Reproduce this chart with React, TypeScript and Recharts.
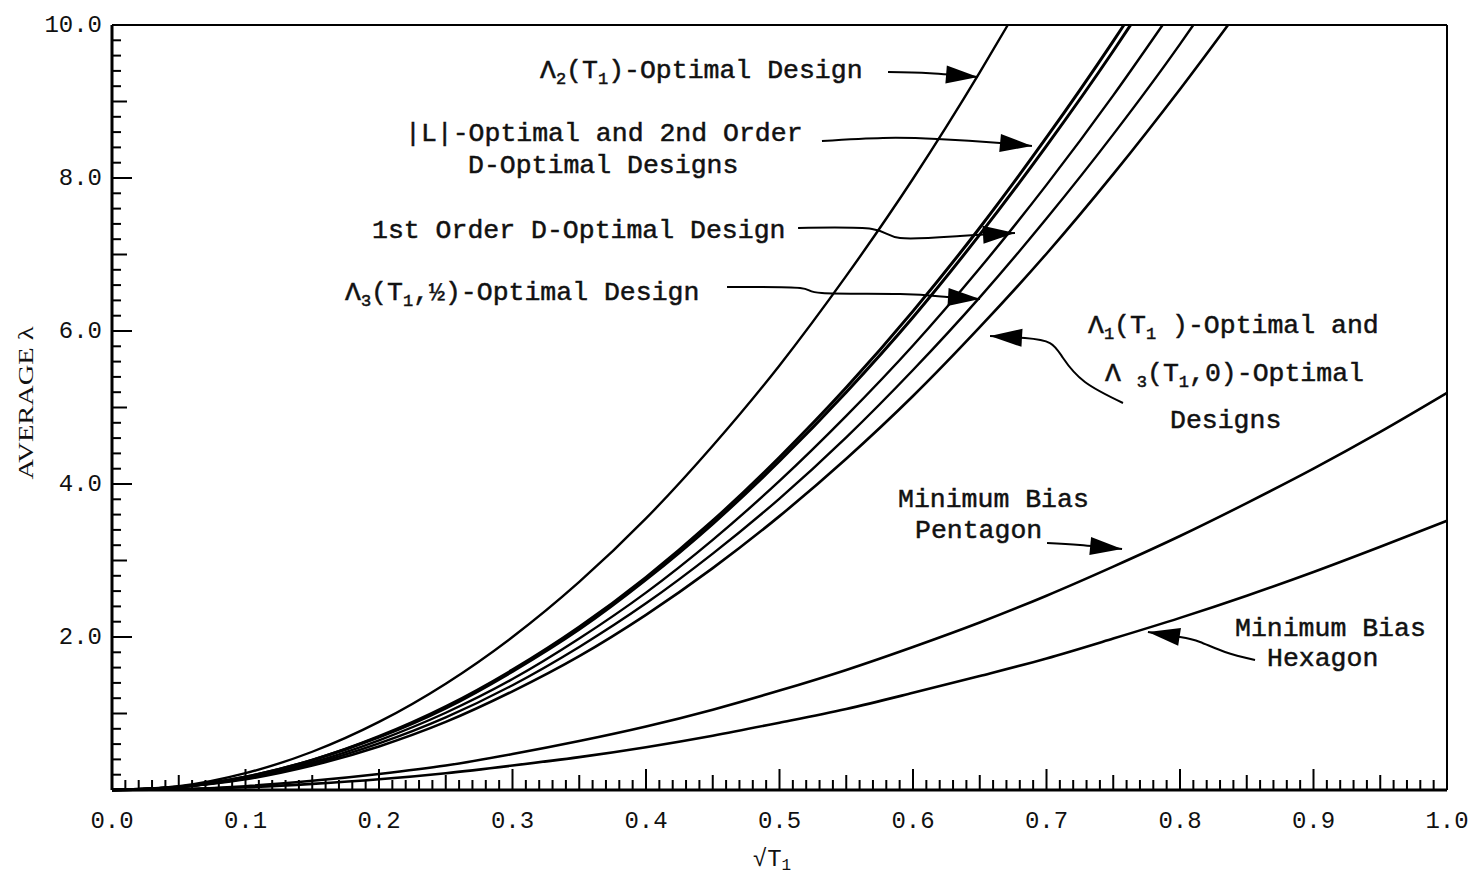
import React from 'react';
import { LineChart, Line, XAxis, YAxis, ReferenceLine } from 'recharts';

document.body.style.margin = '0';

const W = 1480;
const H = 882;
const MONO = '"Liberation Mono", "DejaVu Sans Mono", monospace';
const SERIF = '"Liberation Serif", serif';

// x = sqrt(T1), y = average lambda
const LAMBDA2_OPT = [[0, 0], [0.05, 0.05], [0.1, 0.22], [0.15, 0.5], [0.2, 0.89], [0.25, 1.39], [0.3, 2.0], [0.35, 2.72], [0.4, 3.55], [0.45, 4.5], [0.5, 5.55], [0.55, 6.72], [0.6, 7.99], [0.65, 9.38], [0.671, 10]];
const L_OPT = [[0, 0], [0.05, 0.04], [0.1, 0.17], [0.15, 0.39], [0.2, 0.69], [0.25, 1.07], [0.3, 1.55], [0.35, 2.1], [0.4, 2.75], [0.45, 3.48], [0.5, 4.3], [0.55, 5.2], [0.6, 6.18], [0.65, 7.26], [0.7, 8.42], [0.75, 9.66], [0.763, 10]];
const D2_OPT = [[0, 0], [0.05, 0.04], [0.1, 0.17], [0.15, 0.39], [0.2, 0.7], [0.25, 1.09], [0.3, 1.57], [0.35, 2.13], [0.4, 2.78], [0.45, 3.52], [0.5, 4.35], [0.55, 5.26], [0.6, 6.26], [0.65, 7.35], [0.7, 8.53], [0.75, 9.79], [0.758, 10]];
const D1_OPT = [[0, 0], [0.05, 0.04], [0.1, 0.16], [0.15, 0.36], [0.2, 0.65], [0.25, 1.01], [0.3, 1.45], [0.35, 1.98], [0.4, 2.58], [0.45, 3.27], [0.5, 4.04], [0.55, 4.89], [0.6, 5.81], [0.65, 6.82], [0.7, 7.91], [0.75, 9.08], [0.787, 10]];
const LAMBDA3_HALF = [[0, 0], [0.05, 0.04], [0.1, 0.15], [0.15, 0.34], [0.2, 0.61], [0.25, 0.95], [0.3, 1.37], [0.35, 1.87], [0.4, 2.44], [0.45, 3.09], [0.5, 3.81], [0.55, 4.61], [0.6, 5.49], [0.65, 6.44], [0.7, 7.47], [0.75, 8.57], [0.8, 9.75], [0.81, 10]];
const LAMBDA1_OPT = [[0, 0], [0.05, 0.04], [0.1, 0.14], [0.15, 0.32], [0.2, 0.57], [0.25, 0.89], [0.3, 1.29], [0.35, 1.75], [0.4, 2.29], [0.45, 2.9], [0.5, 3.58], [0.55, 4.33], [0.6, 5.15], [0.65, 6.05], [0.7, 7.01], [0.75, 8.05], [0.8, 9.16], [0.836, 10]];
const PENTAGON = [[0, 0], [0.05, 0.01], [0.1, 0.05], [0.15, 0.12], [0.2, 0.21], [0.25, 0.32], [0.3, 0.47], [0.35, 0.64], [0.4, 0.83], [0.45, 1.05], [0.5, 1.3], [0.55, 1.57], [0.6, 1.87], [0.65, 2.19], [0.7, 2.54], [0.75, 2.92], [0.8, 3.32], [0.85, 3.75], [0.9, 4.2], [0.95, 4.68], [1.0, 5.19]];
const HEXAGON = [[0, 0], [0.05, 0.01], [0.1, 0.035], [0.15, 0.08], [0.2, 0.14], [0.25, 0.22], [0.3, 0.32], [0.35, 0.43], [0.4, 0.56], [0.45, 0.71], [0.5, 0.88], [0.55, 1.06], [0.6, 1.27], [0.65, 1.49], [0.7, 1.72], [0.75, 1.98], [0.8, 2.25], [0.85, 2.54], [0.9, 2.85], [0.95, 3.18], [1.0, 3.52]];

// annotation arrows, tail -> tip, in data units
const ARROW_L2 = [[0.5813, 9.385], [0.6127, 9.37], [0.6487, 9.32]];
const ARROW_L = [[0.5318, 8.484], [0.5775, 8.523], [0.618, 8.51], [0.6652, 8.458], [0.6891, 8.418]];
const ARROW_D1 = [[0.5139, 7.346], [0.5693, 7.333], [0.5903, 7.216], [0.6352, 7.242], [0.6764, 7.281]];
const ARROW_L3 = [[0.4607, 6.575], [0.5154, 6.562], [0.5318, 6.497], [0.5903, 6.484], [0.6255, 6.444], [0.6502, 6.418]];
const ARROW_L1 = [[0.7573, 5.059], [0.7288, 5.333], [0.7124, 5.647], [0.7026, 5.843], [0.6839, 5.908], [0.6577, 5.935]];
const ARROW_PENT = [[0.7004, 3.229], [0.7251, 3.203], [0.7566, 3.15]];
const ARROW_HEX = [[0.8562, 1.699], [0.8337, 1.804], [0.815, 1.935], [0.8, 2.0], [0.776, 2.065]];

const X_LABELS = [0, 0.1, 0.2, 0.3, 0.4, 0.5, 0.6, 0.7, 0.8, 0.9, 1.0];
const Y_LABELS = [2, 4, 6, 8, 10];

const X_TICKS: number[] = [];
for (let i = 0; i <= 100; i++) X_TICKS.push(i / 100);
const Y_TICKS: number[] = [];
for (let i = 0; i <= 50; i++) Y_TICKS.push(i / 5);

const pts = (a: number[][]) => a.map(([x, y]) => ({ x, y }));

const SERIES = [
  { key: 'l2', data: LAMBDA2_OPT, w: 2.4 },
  { key: 'l', data: L_OPT, w: 3 },
  { key: 'd2', data: D2_OPT, w: 3 },
  { key: 'd1', data: D1_OPT, w: 2.4 },
  { key: 'l3', data: LAMBDA3_HALF, w: 2.4 },
  { key: 'l1', data: LAMBDA1_OPT, w: 2.6 },
  { key: 'pent', data: PENTAGON, w: 2.6 },
  { key: 'hex', data: HEXAGON, w: 2.6 },
];

const ARROWS = [
  { key: 'a1', data: ARROW_L2 },
  { key: 'a2', data: ARROW_L },
  { key: 'a3', data: ARROW_D1 },
  { key: 'a4', data: ARROW_L3 },
  { key: 'a5', data: ARROW_L1 },
  { key: 'a6', data: ARROW_PENT },
  { key: 'a7', data: ARROW_HEX },
];

function arrowDot(n: number) {
  let prev = { x: 0, y: 0 };
  return (p: any) => {
    const { cx, cy, index } = p;
    if (index < n - 1) {
      prev = { x: cx, y: cy };
      return <g key={index} />;
    }
    const a = Math.atan2(cy - prev.y, cx - prev.x);
    const len = 32;
    const hw = 9;
    const bx = cx - len * Math.cos(a);
    const by = cy - len * Math.sin(a);
    const s = Math.sin(a);
    const c = Math.cos(a);
    const poly = `${cx},${cy} ${bx - hw * s},${by + hw * c} ${bx + hw * s},${by - hw * c}`;
    return <polygon key={index} points={poly} fill="#000" />;
  };
}

function XTick(props: any) {
  const { x, y, payload } = props;
  const i = Math.round(payload.value * 100);
  const len = i % 10 === 0 ? 21 : i % 5 === 0 ? 15 : 10;
  const major = i % 10 === 0;
  return (
    <g>
      <line x1={x} x2={x} y1={y} y2={y - len} stroke="#000" strokeWidth={2} />
      {major && X_LABELS.some((v) => Math.round(v * 100) === i) && (
        <text x={x} y={y + 38} textAnchor="middle" fontFamily={MONO} fontSize={24} fill="#111">
          {(i / 100).toFixed(1)}
        </text>
      )}
    </g>
  );
}

function YTick(props: any) {
  const { x, y, payload } = props;
  const i = Math.round(payload.value * 5);
  const len = i % 10 === 0 ? 20 : i % 5 === 0 ? 15 : 9;
  const show = i > 0 && Y_LABELS.includes(i / 5);
  return (
    <g>
      <line x1={x} x2={x + len} y1={y} y2={y} stroke="#000" strokeWidth={2} />
      {show && (
        <text x={x - 10} y={y + 7} textAnchor="end" fontFamily={MONO} fontSize={24} fill="#111">
          {(i / 5).toFixed(1)}
        </text>
      )}
    </g>
  );
}

const T = { fontFamily: MONO, fontSize: 26.5, fill: '#111', stroke: '#111', strokeWidth: 0.5 };
const SUB = 17;

export default function App() {
  return (
    <div style={{ position: 'relative', width: W, height: H, background: '#fff' }}>
      <LineChart width={W} height={H} margin={{ top: 25, right: 33, left: 0, bottom: 0 }}>
        <XAxis
          type="number"
          dataKey="x"
          domain={[0, 1]}
          ticks={X_TICKS}
          interval={0}
          tick={<XTick />}
          tickLine={false}
          tickSize={0}
          tickMargin={0}
          height={92}
          axisLine={{ stroke: '#000', strokeWidth: 3 }}
          allowDuplicatedCategory={false}
        />
        <YAxis
          type="number"
          dataKey="y"
          domain={[0, 10]}
          ticks={Y_TICKS}
          interval={0}
          tick={<YTick />}
          tickLine={false}
          tickSize={0}
          tickMargin={0}
          width={112}
          axisLine={{ stroke: '#000', strokeWidth: 3 }}
        />
        <ReferenceLine y={10} stroke="#000" strokeWidth={2} />
        <ReferenceLine x={1} stroke="#000" strokeWidth={2} />
        {SERIES.map((s) => (
          <Line
            key={s.key}
            data={pts(s.data)}
            dataKey="y"
            type="monotone"
            stroke="#000"
            strokeWidth={s.w}
            dot={false}
            isAnimationActive={false}
          />
        ))}
        {ARROWS.map((a) => (
          <Line
            key={a.key}
            data={pts(a.data)}
            dataKey="y"
            type="natural"
            stroke="#000"
            strokeWidth={2}
            dot={arrowDot(a.data.length)}
            activeDot={false}
            isAnimationActive={false}
          />
        ))}
      </LineChart>
      <svg width={W} height={H} style={{ position: 'absolute', left: 0, top: 0, pointerEvents: 'none' }}>
        <text x={540} y={78} {...T}>
          Λ<tspan fontSize={SUB} dy={6}>2</tspan>
          <tspan dy={-6}>(T</tspan>
          <tspan fontSize={SUB} dy={6}>1</tspan>
          <tspan dy={-6}>)-Optimal Design</tspan>
        </text>
        <text x={405} y={141} {...T}>|L|-Optimal and 2nd Order</text>
        <text x={468} y={173} {...T}>D-Optimal Designs</text>
        <text x={372} y={238} {...T}>1st Order D-Optimal Design</text>
        <text x={345} y={300} {...T}>
          Λ<tspan fontSize={SUB} dy={6}>3</tspan>
          <tspan dy={-6}>(T</tspan>
          <tspan fontSize={SUB} dy={6}>1</tspan>
          <tspan dy={-6}>,½)-Optimal Design</tspan>
        </text>
        <text x={1088} y={333} {...T}>
          Λ<tspan fontSize={SUB} dy={6}>1</tspan>
          <tspan dy={-6}>(T</tspan>
          <tspan fontSize={SUB} dy={6}>1</tspan>
          <tspan dy={-6}> )-Optimal and</tspan>
        </text>
        <text x={1105} y={381} {...T}>
          Λ <tspan fontSize={SUB} dy={6}>3</tspan>
          <tspan dy={-6}>(T</tspan>
          <tspan fontSize={SUB} dy={6}>1</tspan>
          <tspan dy={-6}>,0)-Optimal</tspan>
        </text>
        <text x={1170} y={428} {...T}>Designs</text>
        <text x={898} y={507} {...T}>Minimum Bias</text>
        <text x={915} y={538} {...T}>Pentagon</text>
        <text x={1235} y={636} {...T}>Minimum Bias</text>
        <text x={1267} y={666} {...T}>Hexagon</text>
        <text x={772} y={866} textAnchor="middle" fontFamily={MONO} fontSize={24} fill="#111">
          √T<tspan fontSize={16} dy={4}>1</tspan>
        </text>
        <text
          x={25}
          y={403}
          transform="rotate(-90 25 403)"
          textAnchor="middle"
          dominantBaseline="central"
          fontFamily={SERIF}
          fontSize={22}
          textLength={153}
          lengthAdjust="spacingAndGlyphs"
          fill="#111"
        >
          AVERAGE λ
        </text>
      </svg>
    </div>
  );
}
